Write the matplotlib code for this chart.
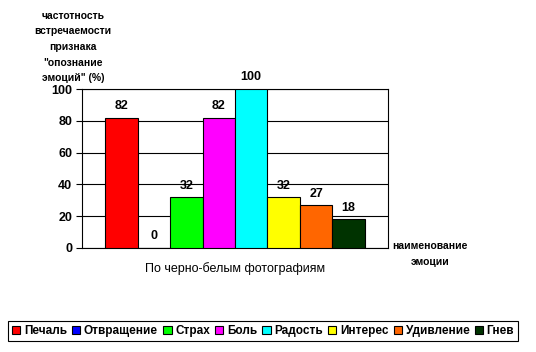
import numpy as np
import matplotlib
matplotlib.use('Agg')
import matplotlib.pyplot as plt

plt.rcParams['font.family'] = ['Liberation Sans', 'DejaVu Sans']

# data
emotions = ['Печаль', 'Отвращение', 'Страх', 'Боль', 'Радость', 'Интерес', 'Удивление', 'Гнев']
values = [82, 0, 32, 82, 100, 32, 27, 18]
colors = ['#FF0000', '#0000FF', '#00FF00', '#FF00FF', '#00FFFF', '#FFFF00', '#FF6600', '#003300']
category = 'По черно-белым фотографиям'
yticks = [0, 20, 40, 60, 80, 100]

fig = plt.figure(figsize=(5.36, 3.52), dpi=100)
ax = fig.add_axes([82/536, 1-248/352, 306/536, 159/352])

w = 0.106
for i, (name, v, c) in enumerate(zip(emotions, values, colors)):
    x = (i - 3.5) * w
    ax.bar(x, v, width=w, color=c, edgecolor='black', linewidth=0.8, label=name, zorder=3)
    ax.annotate(str(v), (x, v), xytext=(0, 4), textcoords='offset points',
                ha='center', va='bottom', fontsize=9, fontweight='bold', annotation_clip=False)

ax.set_xlim(-0.5, 0.5)
ax.set_ylim(0, 100)
ax.set_yticks(yticks)
ax.set_yticklabels([str(t) for t in yticks], fontsize=9, fontweight='bold')
ax.set_xticks([])
ax.tick_params(axis='y', length=4, width=0.8, pad=3)
ax.yaxis.grid(True, color='black', linewidth=0.8, zorder=0)
for s in ax.spines.values():
    s.set_linewidth(0.8)
    s.set_color('black')

fig.text(235/536, 1-269/352, category, ha='center', va='center', fontsize=9)
fig.text(73/536, 1-47/352, 'частотность\nвстречаемости\nпризнака\n"опознание\nэмоций" (%)',
         ha='center', va='center', fontsize=7.5, fontweight='bold', linespacing=1.7)
fig.text(430/536, 1-254/352, 'наименование\nэмоции', ha='center', va='center',
         fontsize=7.5, fontweight='bold', linespacing=1.75)

leg = fig.legend(loc='center', bbox_to_anchor=(263/536, 1-331/352), ncol=8,
                 prop={'weight': 'bold', 'size': 8.5},
                 handlelength=0.7, handleheight=0.7, handletextpad=0.3,
                 columnspacing=0.45, borderpad=0.35, fancybox=False, edgecolor='black',
                 framealpha=1)
leg.get_frame().set_linewidth(0.8)

fig.savefig('out.png', dpi=100)
